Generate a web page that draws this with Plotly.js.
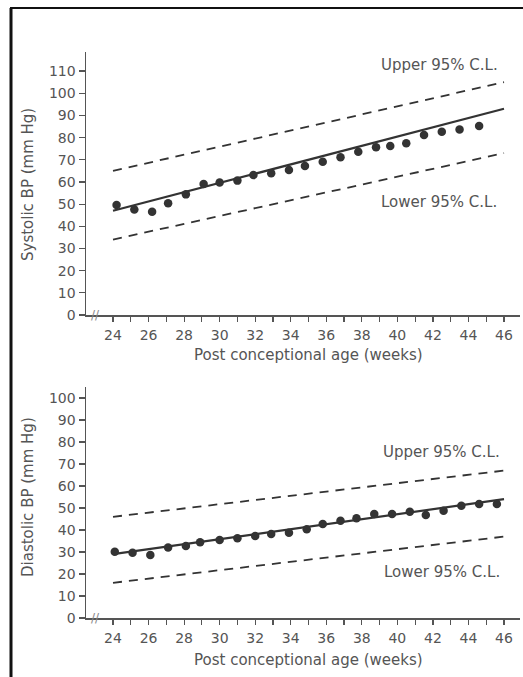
<!DOCTYPE html>
<html>
<head>
<meta charset="utf-8">
<script src="https://cdn.plot.ly/plotly-3.0.1.min.js"></script>
<style>html,body{margin:0;padding:0;background:#fff;}#chart{width:523px;height:677px;}</style>
</head>
<body>
<div id="chart"></div>
<script>
// ---- Data ----
const weekTicks = [24,25,26,27,28,29,30,31,32,33,34,35,36,37,38,39,40,41,42,43,44,45,46];
const weekTickLabels = ["24","","26","","28","","30","","32","","34","","36","","38","","40","","42","","44","","46"];

// Systolic BP (top panel)
const sysWeeks = [24.2,25.2,26.2,27.1,28.1,29.1,30,31,31.9,32.9,33.9,34.8,35.8,36.8,37.8,38.8,39.6,40.5,41.5,42.5,43.5,44.6];
const sysBP    = [49.6,47.6,46.6,50.4,54.4,59.1,59.7,60.6,63.1,63.9,65.4,67.2,69.1,71.1,73.6,75.6,76.2,77.4,81.2,82.6,83.7,85.2];
const sysFitWeeks = [24,46];
const sysFit   = [47,93];
const sysUpper = [65,105];
const sysLower = [34,73];
const sysTicks = [0,10,20,30,40,50,60,70,80,90,100,110];

// Diastolic BP (bottom panel)
const diaWeeks = [24.1,25.1,26.1,27.1,28.1,28.9,30,31,32,32.9,33.9,34.9,35.8,36.8,37.7,38.7,39.7,40.7,41.6,42.6,43.6,44.6,45.6];
const diaBP    = [30.1,29.7,28.6,32.0,32.7,34.4,35.5,36.2,37.3,38.2,38.8,40.3,42.7,44.2,45.3,47.3,47.3,48.3,46.8,48.8,51.0,51.8,51.8];
const diaFitWeeks = [24,46];
const diaFit   = [29,54];
const diaUpper = [46,67];
const diaLower = [16,37];
const diaTicks = [0,10,20,30,40,50,60,70,80,90,100];

// ---- Styles ----
const FONT = "DejaVu Sans, sans-serif";
const TXT = "#555555";
const INK = "#333333";

function pts(x, y, xa, ya) {
  return {x:x, y:y, xaxis:xa, yaxis:ya, type:"scatter", mode:"markers",
    marker:{color:INK, size:8.5}, hoverinfo:"skip", showlegend:false};
}
function line(x, y, xa, ya, dash) {
  return {x:x, y:y, xaxis:xa, yaxis:ya, type:"scatter", mode:"lines",
    line:{color:INK, width: dash ? 1.8 : 2.2, dash: dash ? "9px,7px" : "solid"},
    hoverinfo:"skip", showlegend:false};
}

const traces = [
  line(sysFitWeeks, sysUpper, "x", "y", true),
  line(sysFitWeeks, sysLower, "x", "y", true),
  line(sysFitWeeks, sysFit, "x", "y", false),
  pts(sysWeeks, sysBP, "x", "y"),
  line(diaFitWeeks, diaUpper, "x2", "y2", true),
  line(diaFitWeeks, diaLower, "x2", "y2", true),
  line(diaFitWeeks, diaFit, "x2", "y2", false),
  pts(diaWeeks, diaBP, "x2", "y2")
];

const W = 523, H = 677;
const xDom = [86/W, 520/W];
const xRange = [22.48, 46.9];

function xAxis(anchor) {
  return {domain:xDom, range:xRange, anchor:anchor, showgrid:false, zeroline:false,
    showline:true, linecolor:"#555", linewidth:1.5,
    tickmode:"array", tickvals:weekTicks, ticktext:weekTickLabels,
    ticks:"outside", ticklen:5, tickwidth:1.2, tickcolor:"#555",
    tickfont:{family:FONT, size:14, color:TXT}, ticklabelstandoff:2, fixedrange:true};
}
function yAxis(anchor, dom, rng, vals) {
  return {domain:dom, range:rng, anchor:anchor, showgrid:false, zeroline:false,
    showline:true, linecolor:"#555", linewidth:1.5,
    tickmode:"array", tickvals:vals,
    ticks:"outside", ticklen:6, tickwidth:1.2, tickcolor:"#555",
    tickfont:{family:FONT, size:14, color:TXT}, fixedrange:true};
}

const annFont = {family:FONT, size:15, color:TXT};
function lab(xref, yref, x, y, text, angle, font) {
  return {xref:xref, yref:yref, x:x, y:y, text:text, textangle:angle || 0, showarrow:false,
    xanchor:"center", yanchor:"middle", font:font || annFont};
}
const breakFont = {family:FONT, size:12, color:"#888"};
const layout = {
  width:W, height:H, margin:{l:0, r:0, t:0, b:0},
  paper_bgcolor:"#ffffff", plot_bgcolor:"rgba(0,0,0,0)",
  showlegend:false,
  xaxis: xAxis("y"),
  yaxis: yAxis("x", [(H-315)/H, (H-52)/H], [0, 118.6], sysTicks),
  xaxis2: xAxis("y2"),
  yaxis2: yAxis("x2", [(H-618)/H, (H-387)/H], [0, 105], diaTicks),
  annotations: [
    lab("x", "y", 42.35, 112.8, "Upper 95% C.L."),
    lab("x", "y", 42.35, 51.1, "Lower 95% C.L."),
    lab("x2", "y2", 42.5, 75.6, "Upper 95% C.L."),
    lab("x2", "y2", 42.5, 21.0, "Lower 95% C.L."),
    lab("x", "y", 23.0, 0, "//", 0, breakFont),
    lab("x2", "y2", 23.0, 0, "//", 0, breakFont),
    lab("paper", "paper", 28/W, 1-185/H, "Systolic BP (mm Hg)", -90),
    lab("paper", "paper", 28/W, 1-497/H, "Diastolic BP (mm Hg)", -90),
    lab("paper", "paper", 308/W, 1-355/H, "Post conceptional age (weeks)"),
    lab("paper", "paper", 308/W, 1-660/H, "Post conceptional age (weeks)")
  ],
  shapes: [
    {type:"line", xref:"paper", yref:"paper", x0:10/W, x1:1, y0:1-8/H, y1:1-8/H, line:{color:"#111", width:2}},
    {type:"line", xref:"paper", yref:"paper", x0:11/W, x1:11/W, y0:0, y1:1-8/H, line:{color:"#111", width:3}}
  ]
};

Plotly.newPlot("chart", traces, layout, {displayModeBar:false, staticPlot:true});
</script>
</body>
</html>
